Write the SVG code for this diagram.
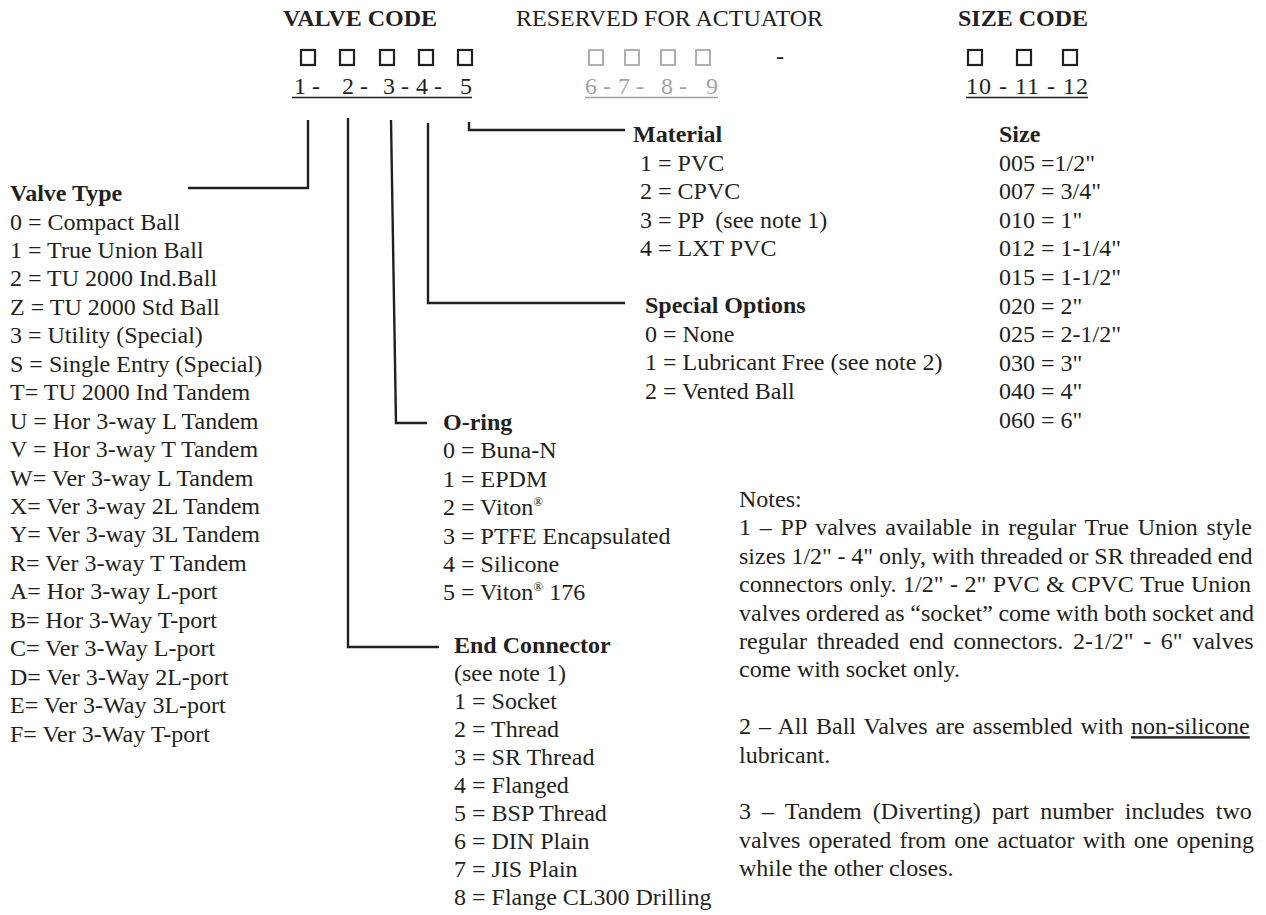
<svg xmlns="http://www.w3.org/2000/svg" width="1266" height="915" viewBox="0 0 1266 915">
<style>
text{font-family:"Liberation Serif","Times New Roman",serif;font-size:24px;fill:#231f20}
.b{font-weight:bold}
.g{fill:#a3a3a3}
.sup{font-size:13px}
.box{fill:none;stroke:#231f20;stroke-width:2.2}
.gbox{fill:none;stroke:#a8a8a8;stroke-width:1.8}
.ln{fill:none;stroke:#231f20;stroke-width:2.4}
.ul{stroke:#231f20;stroke-width:1.3}
.gul{stroke:#a3a3a3;stroke-width:1.3}
</style>
<rect width="1266" height="915" fill="#fff"/>
<g id="header-valve-code">
<text class="b" x="283" y="26">VALVE CODE</text>
<rect class="box" x="301" y="50" width="14" height="15"/>
<rect class="box" x="340" y="50" width="14" height="15"/>
<rect class="box" x="380" y="50" width="14" height="15"/>
<rect class="box" x="419" y="50" width="14" height="15"/>
<rect class="box" x="458" y="50" width="14" height="15"/>
<text y="94" xml:space="preserve"><tspan x="294">1 - </tspan><tspan x="342">2 - </tspan><tspan x="383">3 - </tspan><tspan x="416">4 - </tspan><tspan x="460">5</tspan></text>
<line class="ul" x1="292" y1="97.5" x2="472" y2="97.5"/>
</g>
<g id="header-actuator">
<text x="516" y="26">RESERVED FOR ACTUATOR</text>
<rect class="gbox" x="589" y="50" width="14" height="15"/>
<rect class="gbox" x="625" y="50" width="14" height="15"/>
<rect class="gbox" x="661" y="50" width="14" height="15"/>
<rect class="gbox" x="696" y="50" width="14" height="15"/>
<text class="g" y="94" xml:space="preserve"><tspan x="585">6 - </tspan><tspan x="618">7 - </tspan><tspan x="661">8 - </tspan><tspan x="706">9</tspan></text>
<line class="gul" x1="585" y1="97.5" x2="718" y2="97.5"/>
<text x="776" y="64">-</text>
</g>
<g id="header-size-code">
<text class="b" x="958" y="26">SIZE CODE</text>
<rect class="box" x="968" y="50" width="14" height="15"/>
<rect class="box" x="1017" y="50" width="14" height="15"/>
<rect class="box" x="1063" y="50" width="14" height="15"/>
<text x="966" y="94" textLength="122" lengthAdjust="spacing">10 - 11 - 12</text>
<line class="ul" x1="966" y1="97.5" x2="1088" y2="97.5"/>
</g>
<g id="connectors">
<polyline class="ln" points="308,120 308,188 188,188"/>
<polyline class="ln" points="348,118 348,647 439,647"/>
<polyline class="ln" points="391,120 396,423 427,423"/>
<polyline class="ln" points="428,123 428,303 625,303"/>
<polyline class="ln" points="469,122 469,130 625,130"/>
</g>
<g id="valve-type">
<text x="10" class="b" y="201">Valve Type</text>
<text x="10" y="229.5">0 = Compact Ball</text>
<text x="10" y="258">1 = True Union Ball</text>
<text x="10" y="286.4">2 = TU 2000 Ind.Ball</text>
<text x="10" y="314.8">Z = TU 2000 Std Ball</text>
<text x="10" y="343.3">3 = Utility (Special)</text>
<text x="10" y="371.7">S = Single Entry (Special)</text>
<text x="10" y="400.2">T= TU 2000 Ind Tandem</text>
<text x="10" y="428.6">U = Hor 3-way L Tandem</text>
<text x="10" y="457">V = Hor 3-way T Tandem</text>
<text x="10" y="485.5">W= Ver 3-way L Tandem</text>
<text x="10" y="514">X= Ver 3-way 2L Tandem</text>
<text x="10" y="542.4">Y= Ver 3-way 3L Tandem</text>
<text x="10" y="570.8">R= Ver 3-way T Tandem</text>
<text x="10" y="599.3">A= Hor 3-way L-port</text>
<text x="10" y="627.7">B= Hor 3-Way T-port</text>
<text x="10" y="656.2">C= Ver 3-Way L-port</text>
<text x="10" y="684.6">D= Ver 3-Way 2L-port</text>
<text x="10" y="713">E= Ver 3-Way 3L-port</text>
<text x="10" y="741.5">F= Ver 3-Way T-port</text>
</g>
<g id="material">
<text class="b" x="633" y="142">Material</text>
<text x="640" y="170.5">1 = PVC</text>
<text x="640" y="199">2 = CPVC</text>
<text x="640" y="227.5" xml:space="preserve">3 = PP  (see note 1)</text>
<text x="640" y="256">4 = LXT PVC</text>
</g>
<g id="special-options">
<text class="b" x="645" y="313">Special Options</text>
<text x="645" y="341.5">0 = None</text>
<text x="645" y="370">1 = Lubricant Free (see note 2)</text>
<text x="645" y="398.5">2 = Vented Ball</text>
</g>
<g id="size">
<text class="b" x="999" y="142">Size</text>
<text x="999" y="170.6">005 =1/2"</text>
<text x="999" y="199.2">007 = 3/4"</text>
<text x="999" y="227.8">010 = 1"</text>
<text x="999" y="256.4">012 = 1-1/4"</text>
<text x="999" y="285">015 = 1-1/2"</text>
<text x="999" y="313.6">020 = 2"</text>
<text x="999" y="342.2">025 = 2-1/2"</text>
<text x="999" y="370.8">030 = 3"</text>
<text x="999" y="399.4">040 = 4"</text>
<text x="999" y="428">060 = 6"</text>
</g>
<g id="o-ring">
<text class="b" x="443" y="430">O-ring</text>
<text x="443" y="458.4">0 = Buna-N</text>
<text x="443" y="486.8">1 = EPDM</text>
<text x="443" y="515.2">2 = Viton<tspan class="sup" dy="-9">®</tspan></text>
<text x="443" y="543.6">3 = PTFE Encapsulated</text>
<text x="443" y="572">4 = Silicone</text>
<text x="443" y="600.4">5 = Viton<tspan class="sup" dy="-9">®</tspan><tspan dy="9"> 176</tspan></text>
</g>
<g id="end-connector">
<text class="b" x="454" y="653">End Connector</text>
<text x="454" y="681">(see note 1)</text>
<text x="454" y="709">1 = Socket</text>
<text x="454" y="737">2 = Thread</text>
<text x="454" y="765">3 = SR Thread</text>
<text x="454" y="793">4 = Flanged</text>
<text x="454" y="821">5 = BSP Thread</text>
<text x="454" y="849">6 = DIN Plain</text>
<text x="454" y="877">7 = JIS Plain</text>
<text x="454" y="905">8 = Flange CL300 Drilling</text>
</g>
<g id="notes">
<text x="739" y="507">Notes:</text>
<text x="739" y="535.4" word-spacing="2.8">1 – PP valves available in regular True Union style</text>
<text x="739" y="563.8" word-spacing="-0.25">sizes 1/2" - 4" only, with threaded or SR threaded end</text>
<text x="739" y="592.2" word-spacing="0.5">connectors only. 1/2" - 2" PVC &amp; CPVC True Union</text>
<text x="739" y="620.6" word-spacing="-0.45">valves ordered as “socket” come with both socket and</text>
<text x="739" y="649" word-spacing="3.7">regular threaded end connectors. 2-1/2" - 6" valves</text>
<text x="739" y="677.4">come with socket only.</text>
<text x="739" y="734.2" word-spacing="1.9">2 – All Ball Valves are assembled with <tspan text-decoration="underline">non-silicone</tspan></text>
<text x="739" y="762.6">lubricant.</text>
<text x="739" y="819.4" word-spacing="5.1">3 – Tandem (Diverting) part number includes two</text>
<text x="739" y="847.8" word-spacing="2.25">valves operated from one actuator with one opening</text>
<text x="739" y="876.2">while the other closes.</text>
</g>
</svg>
